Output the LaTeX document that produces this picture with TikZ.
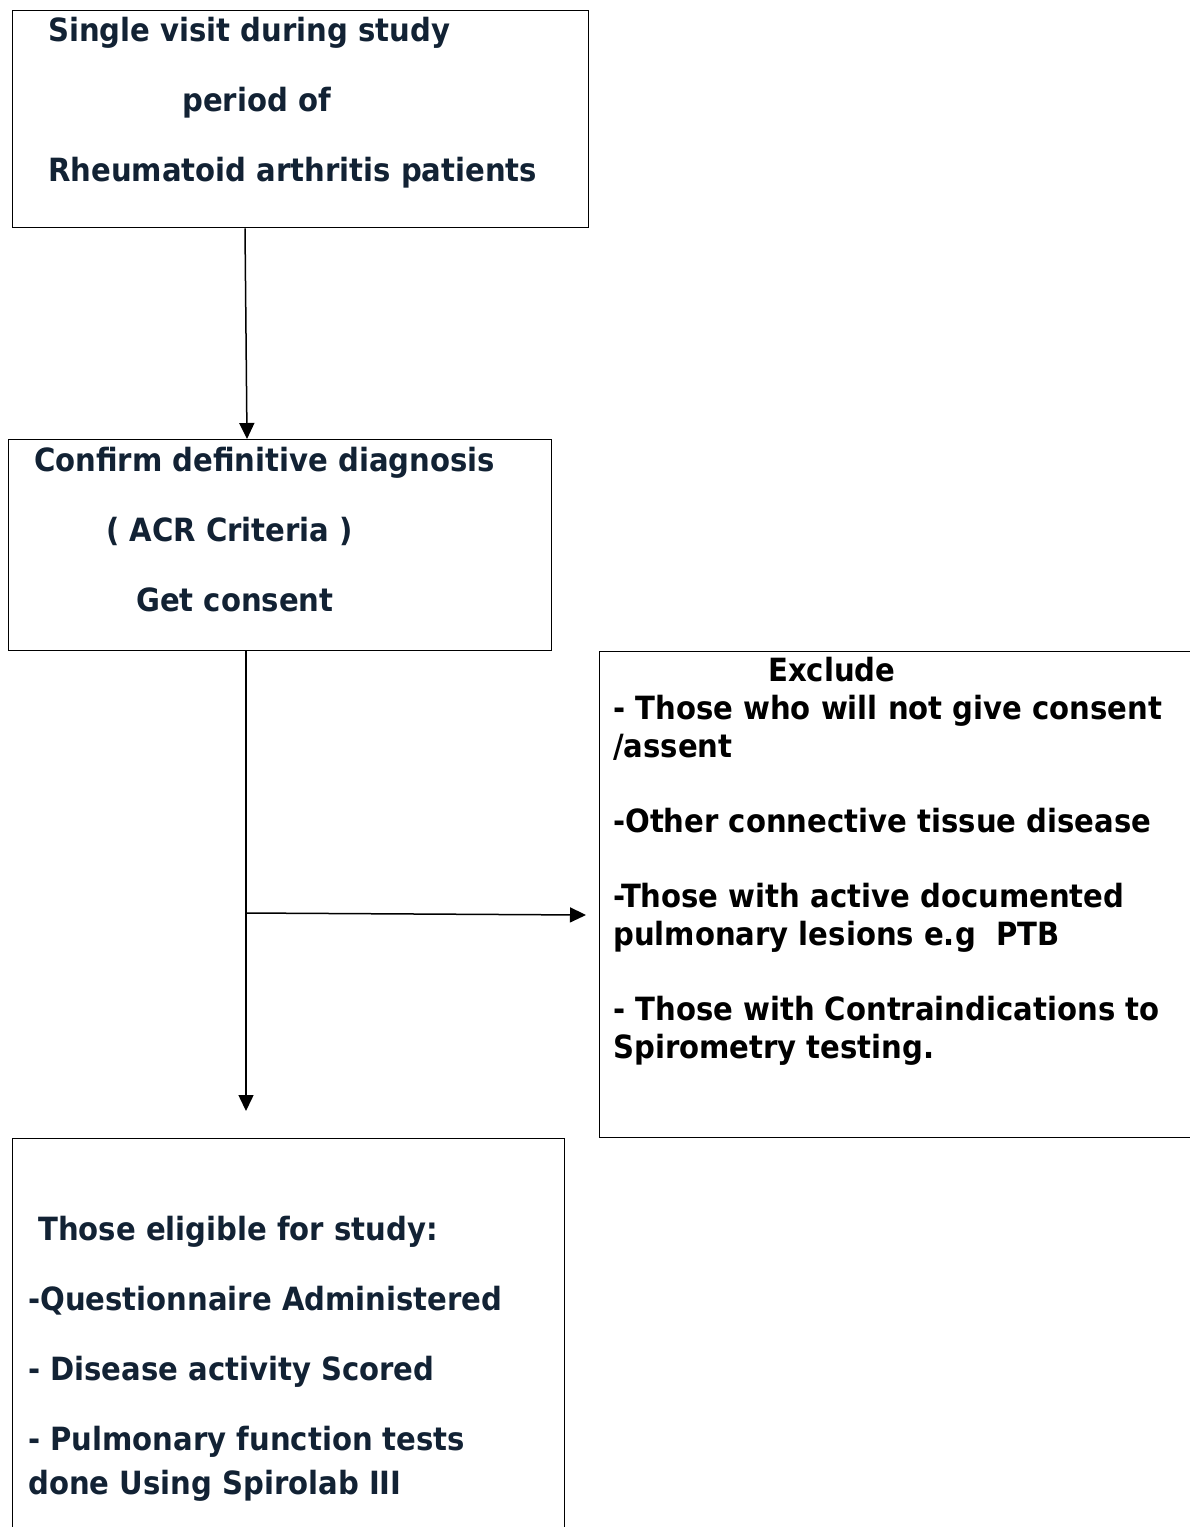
\documentclass[tikz,border=0pt]{standalone}
\usepackage{fontspec}
\newfontfamily\boxfont{DejaVu Sans}[FakeStretch=0.91]
\usetikzlibrary{arrows.meta}
\definecolor{navytext}{RGB}{18,34,52}
\tikzset{
  boxstyle/.style={draw=black, line width=1.4pt, anchor=north west, inner sep=0pt, rectangle},
  txt/.style={anchor=base west, inner sep=0pt, font=\boxfont\bfseries\fontsize{32}{38}\selectfont},
  navy/.style={txt, text=navytext},
  blk/.style={txt, text=black},
  arr/.style={line width=1.5pt, -{Triangle[length=16pt,width=15pt]}},
  ln/.style={line width=1.5pt}
}
\begin{document}
\begin{tikzpicture}[x=1pt,y=-1pt]
\useasboundingbox (0,0) rectangle (1190,1527);
% boxes
\node[boxstyle, minimum width=576pt, minimum height=217pt] (box1) at (12,10) {};
\node[boxstyle, minimum width=543pt, minimum height=211pt] (box2) at (8,439) {};
\node[boxstyle, minimum width=620pt, minimum height=486pt] (excl) at (599,651) {};
\node[boxstyle, minimum width=552pt, minimum height=450pt] (box4) at (12,1138) {};
% box1 text
\node[navy] (t11) at (48,41) {Single visit during study};
\node[navy] (t12) at (182,111) {period of};
\node[navy] (t13) at (48,181) {Rheumatoid arthritis patients};
% box2 text
\node[navy] (t21) at (34,471) {Confirm definitive diagnosis};
\node[navy] (t22) at (106,541) {( ACR Criteria )};
\node[navy] (t23) at (136,611) {Get consent};
% exclude text
\node[blk] (e0) at (768,681) {Exclude};
\node[blk] (e1) at (613,719) {- Those who will not give consent};
\node[blk] (e2) at (613,757) {/assent};
\node[blk] (e3) at (613,832) {-Other connective tissue disease};
\node[blk] (e4) at (613,907) {-Those with active documented};
\node[blk] (e5) at (613,945) {pulmonary lesions e.g\ \ PTB};
\node[blk] (e6) at (613,1020) {- Those with Contraindications to};
\node[blk] (e7) at (613,1058) {Spirometry testing.};
% box4 text
\node[navy] (b1) at (38,1240) {Those eligible for study:};
\node[navy] (b2) at (28,1310) {-Questionnaire Administered};
\node[navy] (b3) at (28,1380) {- Disease activity Scored};
\node[navy] (b4) at (28,1450) {- Pulmonary function tests};
\node[navy] (b5) at (28,1494) {done Using Spirolab III};
% connectors
\coordinate (p1) at (245,0);
\coordinate (p2) at (247,0);
\coordinate (p3) at (246,0);
\coordinate (down) at (246,1111);
\coordinate (branch) at (246,913);
\coordinate (bend) at (586,915);
\draw[arr] (box1.south -| p1) -- (box2.north -| p2);
\draw[arr] (box2.south -| p3) -- (down);
\draw[arr] (branch) -- (bend);
\end{tikzpicture}
\end{document}
